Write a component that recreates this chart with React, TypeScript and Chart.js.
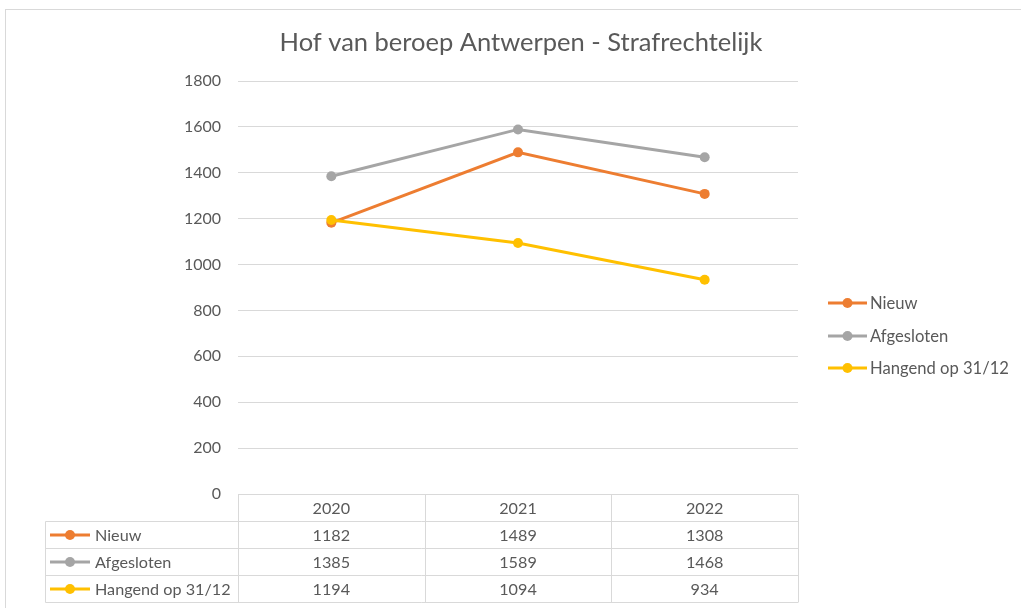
import React, { useEffect, useRef } from "react";
import { Chart, registerables } from "chart.js";

Chart.register(...registerables);

const title = "Hof van beroep Antwerpen - Strafrechtelijk";
const categories = ["2020", "2021", "2022"];
const seriesNames = ["Nieuw", "Afgesloten", "Hangend op 31/12"];
const nieuw = [1182, 1489, 1308];
const afgesloten = [1385, 1589, 1468];
const hangend = [1194, 1094, 934];
const seriesColors = ["#ED7D31", "#A5A5A5", "#FFC000"];
const yMin = 0;
const yMax = 1800;
const yStep = 200;

const FONT = "Lato, 'Noto Sans', sans-serif";
const TEXT = "#595959";
const LINE = "#D9D9D9";

function drawMarker(ctx: CanvasRenderingContext2D, x0: number, x1: number, y: number, color: string) {
  ctx.save();
  ctx.strokeStyle = color;
  ctx.lineWidth = 3;
  ctx.beginPath();
  ctx.moveTo(x0, y);
  ctx.lineTo(x1, y);
  ctx.stroke();
  ctx.fillStyle = color;
  ctx.beginPath();
  ctx.arc((x0 + x1) / 2, y, 5, 0, Math.PI * 2);
  ctx.fill();
  ctx.restore();
}

const decorPlugin = {
  id: "decor",
  beforeDraw(chart: any) {
    const ctx = chart.ctx as CanvasRenderingContext2D;
    ctx.save();
    ctx.fillStyle = "#ffffff";
    ctx.fillRect(0, 0, chart.width, chart.height);
    ctx.strokeStyle = LINE;
    ctx.lineWidth = 1;
    ctx.strokeRect(5.5, 9.5, chart.width + 20, chart.height + 20);
    ctx.restore();
  },
  afterDraw(chart: any) {
    const ctx = chart.ctx as CanvasRenderingContext2D;
    const area = chart.chartArea;
    const xs = chart.scales.x;
    const n = categories.length;
    const centers = categories.map((_, i) => xs.getPixelForValue(i));
    const bounds: number[] = [area.left];
    for (let i = 0; i < n - 1; i++) bounds.push((centers[i] + centers[i + 1]) / 2);
    bounds.push(area.right);

    // title
    ctx.save();
    ctx.fillStyle = TEXT;
    ctx.font = `25.5px ${FONT}`;
    ctx.textAlign = "center";
    ctx.textBaseline = "middle";
    ctx.fillText(title, 521, 43);
    ctx.restore();

    // data table
    const rowH = 27;
    const top = Math.round(area.bottom) + 0.5;
    const labelLeft = 45.5;
    const rows = [top, top + rowH, top + 2 * rowH, top + 3 * rowH, top + 4 * rowH];
    const bottom = rows[rows.length - 1];
    ctx.save();
    ctx.strokeStyle = LINE;
    ctx.lineWidth = 1;
    ctx.beginPath();
    ctx.moveTo(area.left, rows[0]);
    ctx.lineTo(area.right, rows[0]);
    for (let r = 1; r < rows.length; r++) {
      ctx.moveTo(labelLeft, rows[r]);
      ctx.lineTo(area.right, rows[r]);
    }
    ctx.moveTo(labelLeft, rows[1]);
    ctx.lineTo(labelLeft, bottom);
    bounds.forEach((b) => {
      const bx = Math.round(b) + 0.5;
      ctx.moveTo(bx, rows[0]);
      ctx.lineTo(bx, bottom);
    });
    ctx.stroke();

    ctx.fillStyle = TEXT;
    ctx.font = `16.2px ${FONT}`;
    ctx.textBaseline = "middle";
    ctx.textAlign = "center";
    categories.forEach((c, i) => ctx.fillText(c, centers[i], rows[0] + rowH / 2 + 1));
    const datasets = chart.data.datasets;
    datasets.forEach((ds: any, r: number) => {
      const cy = rows[r + 1] + rowH / 2;
      ctx.textAlign = "center";
      ds.data.forEach((v: number, i: number) => ctx.fillText(String(v), centers[i], cy + 1));
      drawMarker(ctx, 50, 90, cy, ds.borderColor);
      ctx.fillStyle = TEXT;
      ctx.textAlign = "left";
      ctx.fillText(ds.label, 95, cy + 1);
    });

    // legend
    ctx.font = `16.6px ${FONT}`;
    const legY = [303, 336, 368];
    datasets.forEach((ds: any, r: number) => {
      drawMarker(ctx, 828, 867, legY[r], ds.borderColor);
      ctx.fillStyle = TEXT;
      ctx.textAlign = "left";
      ctx.fillText(ds.label, 870, legY[r] + 1);
    });
    ctx.restore();
  },
};

export default function App() {
  const ref = useRef<HTMLCanvasElement | null>(null);
  useEffect(() => {
    document.body.style.margin = "0";
    const canvas = ref.current!;
    const series = [nieuw, afgesloten, hangend];
    const orders = [3, 2, 1];
    const chart = new Chart(canvas, {
      type: "line",
      data: {
        labels: categories,
        datasets: series.map((d, i) => ({
          label: seriesNames[i],
          data: d,
          borderColor: seriesColors[i],
          backgroundColor: seriesColors[i],
          pointBackgroundColor: seriesColors[i],
          pointBorderColor: seriesColors[i],
          borderWidth: 3,
          pointRadius: 5,
          pointBorderWidth: 0,
          tension: 0,
          order: orders[i],
        })),
      },
      options: {
        animation: false,
        responsive: false,
        layout: { padding: { left: 0, top: 81, right: 223, bottom: 114 } },
        plugins: {
          legend: { display: false },
          title: { display: false },
          tooltip: { enabled: false },
        },
        scales: {
          x: {
            type: "category",
            offset: true,
            display: false,
          },
          y: {
            min: yMin,
            max: yMax,
            afterFit: (scale: any) => {
              scale.width = 238;
            },
            ticks: {
              stepSize: yStep,
              padding: 17,
              color: TEXT,
              font: { family: FONT, size: 16 },
              callback: (v: any) => String(v),
            },
            grid: { color: LINE, lineWidth: 1, drawTicks: false },
            border: { display: false },
          },
        },
      },
      plugins: [decorPlugin],
    });
    return () => chart.destroy();
  }, []);
  return (
    <div style={{ width: 1021, height: 608 }}>
      <canvas ref={ref} width={1021} height={608} style={{ display: "block" }} />
    </div>
  );
}
